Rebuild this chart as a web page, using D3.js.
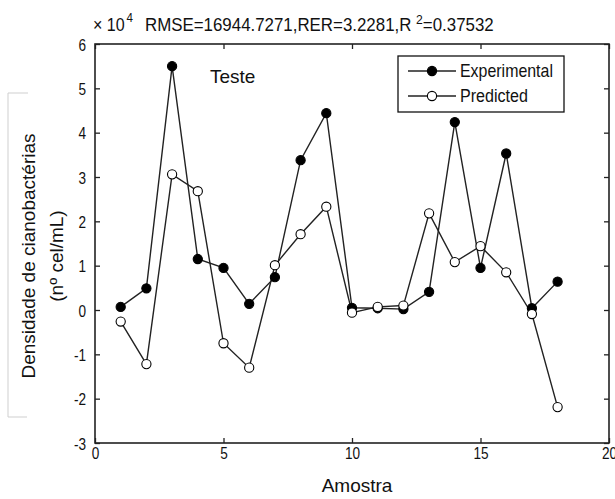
<!DOCTYPE html>
<html>
<head>
<meta charset="utf-8">
<script src="https://cdn.jsdelivr.net/npm/d3@7"></script>
<style>
  html, body { margin: 0; padding: 0; background: #fff; }
  svg { display: block; }
  .num { font-family: "Liberation Sans Narrow", "Arial Narrow", "Liberation Sans", Arial, sans-serif; }
  .lbl { font-family: "Liberation Sans", Arial, Helvetica, sans-serif; }
</style>
</head>
<body>
<svg id="chart" width="615" height="499"></svg>
<script>
// Sample index (Amostra)
const amostra = [1, 2, 3, 4, 5, 6, 7, 8, 9, 10, 11, 12, 13, 14, 15, 16, 17, 18];
// Cyanobacteria density, in units of 10^4 cells/mL
const experimental = [0.07, 0.49, 5.50, 1.15, 0.95, 0.14, 0.74, 3.38, 4.44, 0.05, 0.04, 0.02, 0.41, 4.24, 0.95, 3.53, 0.04, 0.64];
const predicted = [-0.26, -1.22, 3.06, 2.68, -0.75, -1.30, 1.01, 1.71, 2.33, -0.06, 0.07, 0.10, 2.18, 1.08, 1.44, 0.85, -0.09, -2.19];
const xTicks = [0, 5, 10, 15, 20];
const yTicks = [-3, -2, -1, 0, 1, 2, 3, 4, 5, 6];
const seriesNames = ["Experimental", "Predicted"];

const svg = d3.select("#chart");
const plotL = 95, plotR = 609, plotT = 44, plotB = 443;

const x = d3.scaleLinear().domain([0, 20]).range([plotL, plotR]);
const y = d3.scaleLinear().domain([-3, 6]).range([plotB, plotT]);
const fmt = d => String(d);

// Tall, narrow glyphs for the numeric labels
const SX = 0.8;

// Squeeze a text horizontally (about its own x) to a given width
function squeezeTo(g, width) {
  const w = g.node().getBBox().width;
  g.attr("transform", `${g.attr("data-t")} scale(${width / w},1)`);
}

// Axes with inward ticks on all four sides
const axB = svg.append("g").attr("transform", `translate(0,${plotB})`)
  .call(d3.axisBottom(x).tickValues(xTicks).tickFormat(fmt).tickSize(-5).tickPadding(4));
const axT = svg.append("g").attr("transform", `translate(0,${plotT})`)
  .call(d3.axisTop(x).tickValues(xTicks).tickFormat("").tickSize(-5));
const axL = svg.append("g").attr("transform", `translate(${plotL},0)`)
  .call(d3.axisLeft(y).tickValues(yTicks).tickFormat(fmt).tickSize(-5).tickPadding(9));
const axR = svg.append("g").attr("transform", `translate(${plotR},0)`)
  .call(d3.axisRight(y).tickValues(yTicks).tickFormat("").tickSize(-5));

[axB, axT, axL, axR].forEach(g => {
  g.select(".domain").remove();
  g.selectAll(".tick line").attr("stroke", "#222").attr("stroke-width", 1.3);
  g.selectAll(".tick text").attr("class", "num").attr("font-size", 17).attr("fill", "#111")
    .attr("transform", `scale(${SX},1)`);
});
axL.selectAll(".tick text").attr("x", -9 / SX).attr("dy", "0.36em");

// Plot box
svg.append("rect")
  .attr("x", plotL).attr("y", plotT)
  .attr("width", plotR - plotL).attr("height", plotB - plotT)
  .attr("fill", "none").attr("stroke", "#222").attr("stroke-width", 1.6);

// Exponent and statistics heading
const head = svg.append("text").attr("class", "num").attr("font-size", 18).attr("fill", "#111")
  .attr("data-t", "translate(93,31)");
head.append("tspan").text("\u00d7 10");
head.append("tspan").attr("font-size", 13).attr("dy", -9).attr("dx", 2).text("4");
squeezeTo(head, 40);

const stats = svg.append("text").attr("class", "num").attr("font-size", 18).attr("fill", "#111")
  .attr("data-t", "translate(145,31)");
stats.append("tspan").text("RMSE=16944.7271,RER=3.2281,R ");
stats.append("tspan").attr("font-size", 13).attr("dy", -7).text("2");
stats.append("tspan").attr("dy", 7).text("=0.37532");
squeezeTo(stats, 349);

// Series lines and markers
const line = d3.line().x((d, i) => x(amostra[i])).y(d => y(d));
const series = [
  { name: seriesNames[0], values: experimental, fill: "#000", width: 93 },
  { name: seriesNames[1], values: predicted, fill: "#fff", width: 68 }
];

series.forEach(s => {
  svg.append("path").datum(s.values)
    .attr("d", line).attr("fill", "none")
    .attr("stroke", "#222").attr("stroke-width", 1.4);
});
series.forEach(s => {
  svg.append("g").selectAll("circle").data(s.values).join("circle")
    .attr("cx", (d, i) => x(amostra[i])).attr("cy", d => y(d))
    .attr("r", 4.6).attr("fill", s.fill)
    .attr("stroke", "#000").attr("stroke-width", 1.1);
});

// Legend
const leg = svg.append("g");
leg.append("rect").attr("x", 398).attr("y", 56).attr("width", 166).attr("height", 56)
  .attr("fill", "#fff").attr("stroke", "#111").attr("stroke-width", 1.3);
series.forEach((s, i) => {
  const ly = 71 + i * 25;
  leg.append("line").attr("x1", 408).attr("x2", 456).attr("y1", ly).attr("y2", ly)
    .attr("stroke", "#222").attr("stroke-width", 1.3);
  leg.append("circle").attr("cx", 432).attr("cy", ly).attr("r", 4.6)
    .attr("fill", s.fill).attr("stroke", "#000").attr("stroke-width", 1.1);
  const t = leg.append("text").attr("class", "num").attr("font-size", 18).attr("fill", "#111")
    .attr("data-t", `translate(460,${ly + 6})`).text(s.name);
  squeezeTo(t, s.width);
});

// Panel caption
svg.append("text").attr("class", "lbl").attr("font-size", 19).attr("fill", "#111")
  .attr("x", 210).attr("y", 83).text("Teste");

// Axis titles
svg.append("text").attr("class", "lbl").attr("font-size", 19).attr("fill", "#111")
  .attr("text-anchor", "middle").attr("x", 357).attr("y", 492).text("Amostra");

const yl = svg.append("text").attr("class", "lbl").attr("font-size", 19).attr("fill", "#111")
  .attr("text-anchor", "middle")
  .attr("transform", "translate(35,256) rotate(-90)");
yl.append("tspan").attr("x", 0).attr("y", 0).text("Densidade de cianobactérias");
yl.append("tspan").attr("x", 0).attr("y", 28).text("(n\u00ba cel/mL)");

// Light bracket beside the axis title
svg.append("path")
  .attr("d", "M28,93 H8 V417 H27")
  .attr("fill", "none").attr("stroke", "#cfcfcf").attr("stroke-width", 1);
</script>
</body>
</html>
